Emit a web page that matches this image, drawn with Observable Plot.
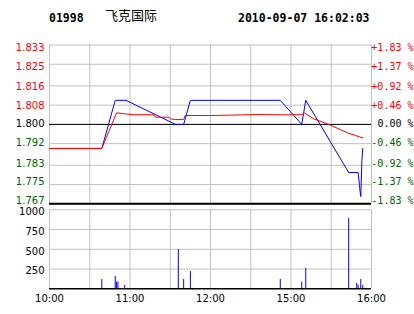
<!DOCTYPE html>
<html><head><meta charset="utf-8">
<script src="https://cdn.jsdelivr.net/npm/d3@7"></script>
<script src="https://cdn.jsdelivr.net/npm/@observablehq/plot@0.6"></script>
<style>
html,body{margin:0;padding:0;background:#fff;}
#wrap{position:relative;width:414px;height:314px;overflow:hidden;background:#fff;}
#wrap svg{position:absolute;left:0;top:0;}
</style></head><body>
<div id="wrap"></div>
<script>
const stockCode = "01998";
const stockName = "飞克国际";
const stamp = "2010-09-07 16:02:03";
const prevClose = 1.800;
const priceTicks = [1.767,1.775,1.783,1.792,1.800,1.808,1.816,1.825,1.833];
const pctLabels = ["-1.83 %","-1.37 %","-0.92 %","-0.46 %","0.00 %","+0.46 %","+0.92 %","+1.37 %","+1.83 %"];
const priceTimes = ["10:00","10:39","10:49","10:57","11:34","11:40","11:45","14:52","15:08","15:11","15:43","15:50","15:51","15:51:30","15:52","15:52:50","15:53:30"];
const priceValues = [1.790,1.790,1.810,1.810,1.800,1.800,1.810,1.810,1.800,1.810,1.780,1.780,1.775,1.772,1.770,1.785,1.790];
const avgTimes = ["10:00","10:39","10:50","10:56","11:03","11:18","11:19","11:29","11:30","11:34","11:40","11:41","12:01","14:36","14:52","15:08","15:10","15:17","15:29","15:42","15:48","15:53:30"];
const avgValues = [1.790,1.790,1.8048,1.8044,1.8040,1.8040,1.8030,1.8030,1.8023,1.8020,1.8020,1.8037,1.8037,1.8041,1.8040,1.8040,1.8048,1.8023,1.7998,1.7965,1.7954,1.7944];
const volTimes = ["10:39","10:49","10:50","10:51","10:56","11:36","11:40","11:45","14:52","15:08","15:11","15:43","15:49","15:50","15:52","15:53:30"];
const volValues = [118,156,84,84,42,497,118,219,118,84,257,890,67,46,118,42];
const volTicks = [250,500,750,1000];
const timeTicks = ["10:00","11:00","12:00","15:00","16:00"];
const gridTimes = ["10:00","10:30","11:00","11:30","12:00","14:30","15:00","15:30","16:00"];

// trading-session minutes (morning 10:00-12:30, afternoon 14:30-16:00)
function sessionMin(t){
  const [h,m,s=0] = t.split(":").map(Number);
  const v = h*60 + m + s/60;
  return v <= 750 ? v - 600 : 150 + (v - 870);
}
const priceData = priceTimes.map((t,i)=>({t:sessionMin(t), p:priceValues[i]}));
const avgData = avgTimes.map((t,i)=>({t:sessionMin(t), p:avgValues[i]}));
const volData = volTimes.map((t,i)=>({t:sessionMin(t), v:volValues[i]}));
const gridMins = gridTimes.map(sessionMin);
const timeLabel = new Map(timeTicks.map(t=>[sessionMin(t), t]));
const colorOf = d => d > prevClose + 1e-9 ? "#ff0000" : d < prevClose - 1e-9 ? "#005f00" : "#000000";

const W = 414, H = 314;
const common = {width: W, height: H, marginLeft: 49, marginRight: 43};

const pricePlot = Plot.plot({
  ...common, marginTop: 44.5, marginBottom: H - 203.3,
  style: {background: "transparent"},
  x: {domain: [0, 240], axis: null},
  y: {domain: [1.767, 1.833], axis: null},
  marks: [
    Plot.ruleY(priceTicks, {stroke: "#c0c0c0"}),
    Plot.ruleX(gridMins, {stroke: "#c0c0c0"}),
    Plot.ruleY([prevClose], {stroke: "#000"}),
    Plot.ruleY([1.767], {stroke: "#000", strokeWidth: 2}),
    Plot.line(priceData, {x: "t", y: "p", stroke: "#0000ff", strokeWidth: 1}),
    Plot.line(avgData, {x: "t", y: "p", stroke: "#ff0000", strokeWidth: 1})
  ]
});

const labelPlot = Plot.plot({
  ...common, marginTop: 47.3, marginBottom: H - 200,
  style: {background: "transparent"},
  color: {type: "identity"},
  y: {domain: [1.767, 1.833], axis: null},
  marks: [
    Plot.text(priceTicks, {y: d => d, frameAnchor: "left", dx: -5, textAnchor: "end",
      text: d => d.toFixed(3), fill: colorOf, fontSize: 10, fontFamily: "DejaVu Sans"}),
    Plot.text(priceTicks, {y: d => d, frameAnchor: "right", dx: 42, textAnchor: "end",
      text: (d, i) => pctLabels[i], fill: colorOf, fontSize: 10, fontFamily: "DejaVu Sans Mono"})
  ]
});

const volPlot = Plot.plot({
  ...common, marginTop: 209.3, marginBottom: H - 288.3,
  style: {background: "transparent", fontFamily: "DejaVu Sans", fontSize: "10px"},
  x: {domain: [0, 240], axis: null},
  y: {domain: [0, 1000], axis: null},
  marks: [
    Plot.ruleY(volTicks, {stroke: "#c0c0c0"}),
    Plot.ruleX(gridMins, {stroke: "#c0c0c0"}),
    Plot.ruleX(volData, {x: "t", y1: 0, y2: "v", stroke: "#0000ff", strokeWidth: 1}),
    Plot.ruleY([0], {stroke: "#000", strokeWidth: 1.5}),
    Plot.axisY(volTicks, {tickSize: 0, tickPadding: 5, dy: 2, fontSize: 10, label: null, tickFormat: d => String(d)}),
    Plot.axisX([...timeLabel.keys()], {tickSize: 0, tickPadding: 6, fontSize: 10, label: null, tickFormat: d => timeLabel.get(d)})
  ]
});

const wrap = document.getElementById("wrap");
wrap.append(pricePlot, volPlot, labelPlot);

function hdr(text, left, top, style){
  const d = document.createElement("div");
  d.textContent = text;
  d.style.position = "absolute";
  d.style.left = left + "px";
  d.style.top = top + "px";
  Object.assign(d.style, style);
  wrap.append(d);
}
const mono = {fontFamily: "'DejaVu Sans Mono', monospace", fontWeight: "bold", fontSize: "11.5px", lineHeight: "normal", whiteSpace: "nowrap"};
hdr(stockCode, 49, 11, mono);
hdr(stockName, 105, 4.5, {fontFamily: "'Noto Sans CJK SC', sans-serif", fontSize: "13px", whiteSpace: "nowrap"});
hdr(stamp, 238, 11, mono);
</script>
</body></html>
